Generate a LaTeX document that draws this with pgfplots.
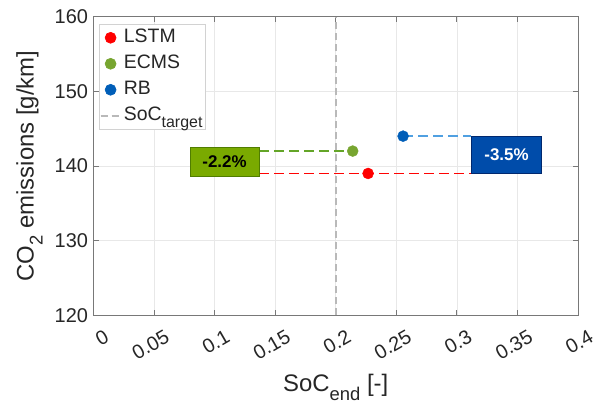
\documentclass[border=0pt]{standalone}
\usepackage{fontspec}
\setmainfont{Liberation Sans}
\usepackage{pgfplots}
\pgfplotsset{compat=1.18}
\definecolor{cLSTM}{RGB}{255,0,0}
\definecolor{cECMS}{RGB}{119,165,48}
\definecolor{cRB}{RGB}{0,94,184}
\definecolor{rbline}{RGB}{80,160,225}
\definecolor{ecmsline}{RGB}{100,165,40}
\definecolor{gbox}{RGB}{122,170,0}
\definecolor{gboxd}{RGB}{80,125,0}
\definecolor{bbox}{RGB}{0,76,170}
\definecolor{bboxd}{RGB}{0,40,110}
\definecolor{axgray}{RGB}{120,120,120}
\pgfplotsset{
  markleg/.style={legend image code/.code={\draw[##1] plot coordinates {(10bp,0bp)};}},
  lineleg/.style={legend image code/.code={\draw[##1] (0bp,0bp) -- (20bp,0bp);}},
}
\begin{document}
\begin{tikzpicture}
\begin{axis}[
  scale only axis, width=484.5bp, height=298.6bp,
  xmin=0, xmax=0.4, ymin=120, ymax=160,
  xtick={0,0.05,0.1,0.15,0.2,0.25,0.3,0.35,0.4},
  xticklabels={0,0.05,0.1,0.15,0.2,0.25,0.3,0.35,0.4},
  ytick={120,130,140,150,160},
  yticklabels={120,130,140,150,160},
  tick align=inside, major tick length=5bp,
  grid=major, major grid style={color=gray!18, line width=0.6bp},
  axis line style={axgray, line width=0.8bp},
  tick style={axgray, line width=0.8bp},
  every tick label/.append style={font=\fontsize{20}{22}\selectfont, text=black!85},
  x tick label style={rotate=30, anchor=north east, inner sep=0pt, xshift=1.8bp, yshift=-16.5bp},
  y tick label style={xshift=-2bp},
  xlabel={SoC\raisebox{-0.38em}{\fontsize{18.5}{18.5}\selectfont end} [-]},
  ylabel={CO\raisebox{-0.38em}{\fontsize{18.5}{18.5}\selectfont 2} emissions [g/km]},
  label style={font=\fontsize{24}{26}\selectfont, text=black!85},
  xlabel style={at={(axis description cs:0.5,-0.2548)}, anchor=base},
  ylabel style={at={(axis description cs:-0.1238,0.5)}, anchor=base},
  legend style={at={(axis description cs:0.01135,0.9756)}, anchor=north west,
    draw=gray!35, fill=white, inner sep=0.5bp, line width=0.6bp,
    font=\fontsize{19.5}{20}\selectfont, text=black!85, cells={anchor=west},
    row sep=0bp, nodes={text height=14bp, text depth=5bp, inner ysep=3.5bp, inner xsep=2.5bp}},
  markleg,
  clip=false,
]
% connector lines
\addplot[color=ecmsline, line width=1.5bp, dash pattern=on 10bp off 5bp, forget plot] coordinates {(0.1367,142) (0.214,142)};
\addplot[color=rbline, line width=1.5bp, dash pattern=on 10bp off 5bp, forget plot] coordinates {(0.2556,144) (0.312,144)};
\addplot[color=cLSTM, draw opacity=0.99, line width=1.6bp, dash pattern=on 10bp off 5bp, forget plot] coordinates {(0.1367,139.02) (0.312,139.02)};
% points
\addplot[only marks, mark=*, mark size=5.5bp, color=cLSTM] coordinates {(0.2267,139)};
\addlegendentry{LSTM}
\addplot[only marks, mark=*, mark size=5.5bp, color=cECMS] coordinates {(0.214,142)};
\addlegendentry{ECMS}
\addplot[only marks, mark=*, mark size=5.5bp, color=cRB] coordinates {(0.2556,144)};
\addlegendentry{RB}
\addplot[color=gray!55, line width=1.6bp, dash pattern=on 7bp off 4bp, lineleg] coordinates {(0.2,120) (0.2,160)};
\addlegendentry{SoC\raisebox{-0.35em}{\fontsize{16}{16}\selectfont target}}
% annotation boxes
\draw[gboxd, fill=gbox, line width=0.8bp] (axis cs:0.0797,138.6) rectangle (axis cs:0.1367,142.5);
\node[font=\fontsize{17}{17}\selectfont\bfseries, text=black] at (axis cs:0.1082,140.55) {-2.2\%};
\draw[bboxd, fill=bbox, line width=0.8bp] (axis cs:0.312,138.98) rectangle (axis cs:0.370,144.0);
\node[font=\fontsize{17}{17}\selectfont\bfseries, text=white] at (axis cs:0.341,141.5) {-3.5\%};
\end{axis}
\pgfresetboundingbox
\path ([shift={(-93.5bp,-87.7bp)}]current axis.south west) rectangle ++(596bp,403bp);
\end{tikzpicture}
\end{document}
